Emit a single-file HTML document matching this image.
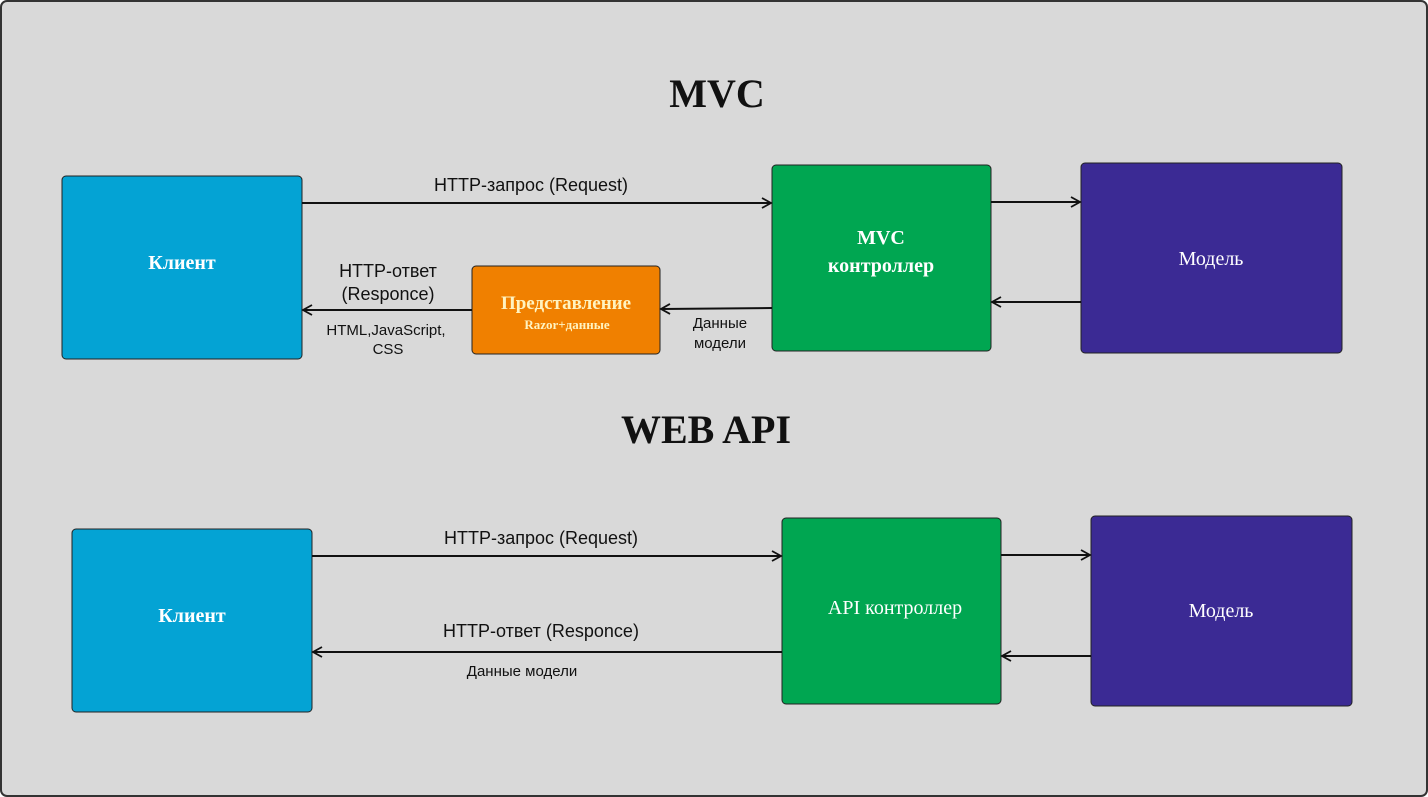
<!DOCTYPE html>
<html><head><meta charset="utf-8"><style>
html,body{margin:0;padding:0;background:#fff}
svg{display:block}
</style></head><body>
<svg width="1428" height="797" xmlns="http://www.w3.org/2000/svg" font-family="Liberation Sans, sans-serif">
<defs>
<marker id="a" markerWidth="12" markerHeight="12" refX="10" refY="6" orient="auto" markerUnits="userSpaceOnUse">
<path d="M1,1 L10,6 L1,11" fill="none" stroke="#111" stroke-width="1.8"/>
</marker>
</defs>
<rect x="1" y="1" width="1426" height="795" rx="6" fill="#d9d9d9" stroke="#333" stroke-width="2"/>
<text x="717" y="107" text-anchor="middle" font-family="Liberation Serif, serif" font-weight="bold" font-size="40" fill="#111">MVC</text>
<text x="706" y="443" text-anchor="middle" font-family="Liberation Serif, serif" font-weight="bold" font-size="40" fill="#111">WEB API</text>

<g stroke="#222" stroke-width="1">
<rect x="62" y="176" width="240" height="183" rx="4" fill="#04a3d4"/>
<rect x="772" y="165" width="219" height="186" rx="4" fill="#00a651"/>
<rect x="1081" y="163" width="261" height="190" rx="4" fill="#3b2a94"/>
<rect x="472" y="266" width="188" height="88" rx="4" fill="#f08000"/>
<rect x="72" y="529" width="240" height="183" rx="4" fill="#04a3d4"/>
<rect x="782" y="518" width="219" height="186" rx="4" fill="#00a651"/>
<rect x="1091" y="516" width="261" height="190" rx="4" fill="#3b2a94"/>
</g>

<g stroke="#111" stroke-width="2" marker-end="url(#a)">
<line x1="302" y1="203" x2="771" y2="203"/>
<line x1="991" y1="202" x2="1080" y2="202"/>
<line x1="1081" y1="302" x2="992" y2="302"/>
<line x1="772" y1="308" x2="661" y2="309"/>
<line x1="472" y1="310" x2="303" y2="310"/>
<line x1="312" y1="556" x2="781" y2="556"/>
<line x1="1001" y1="555" x2="1090" y2="555"/>
<line x1="1091" y1="656" x2="1002" y2="656"/>
<line x1="782" y1="652" x2="313" y2="652"/>
</g>

<g font-size="18" fill="#111" text-anchor="middle">
<text x="531" y="191">HTTP-запрос (Request)</text>
<text x="388" y="277">HTTP-ответ</text>
<text x="388" y="300">(Responce)</text>
<text x="541" y="544">HTTP-запрос (Request)</text>
<text x="541" y="637">HTTP-ответ (Responce)</text>
</g>
<g font-size="15" fill="#111" text-anchor="middle">
<text x="386" y="335">HTML,JavaScript,</text>
<text x="388" y="354">CSS</text>
<text x="720" y="328">Данные</text>
<text x="720" y="348">модели</text>
<text x="522" y="676">Данные модели</text>
</g>

<g font-family="Liberation Serif, serif" fill="#fff" text-anchor="middle">
<text x="182" y="269" font-size="20" font-weight="bold">Клиент</text>
<text x="192" y="622" font-size="20" font-weight="bold">Клиент</text>
<text x="881" y="244" font-size="20" font-weight="bold">MVC</text>
<text x="881" y="272" font-size="20" font-weight="bold">контроллер</text>
<text x="1211" y="265" font-size="20">Модель</text>
<text x="1221" y="617" font-size="20">Модель</text>
<text x="895" y="614" font-size="20">API контроллер</text>
<text x="566" y="309" font-size="19" font-weight="bold" fill="#fff3c0">Представление</text>
<text x="567" y="329" font-size="13" font-weight="bold" fill="#fff3c0">Razor+данные</text>
</g>
</svg>
</body></html>
